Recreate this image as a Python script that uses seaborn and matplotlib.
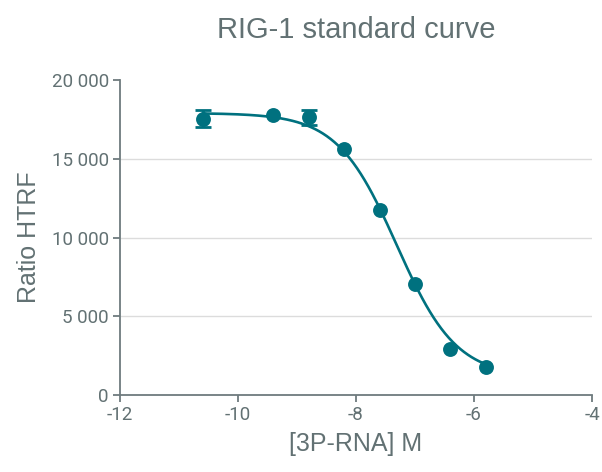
import numpy as np
import pandas as pd
import seaborn as sns
from matplotlib import pyplot as plt
from matplotlib.ticker import FuncFormatter

# measured points (log concentration vs HTRF ratio)
log_conc = [-10.6, -9.4, -8.8, -8.2, -7.6, -7.0, -6.4, -5.8]
ratio = [17550, 17800, 17620, 15650, 11750, 7080, 2930, 1780]
ratio_sd = [560, 0, 500, 0, 0, 0, 0, 0]

# 4PL fit parameters
top, bottom, log_ec50, hill = 17900, 1150, -7.31, 0.86

teal = '#00717f'
grey_txt = '#627173'
grey_axis = '#6e7b7e'

sns.set_style('white')
plt.rcParams['font.family'] = ['Liberation Sans', 'DejaVu Sans']
plt.rcParams['axes.unicode_minus'] = False

points = pd.DataFrame({'x': log_conc, 'y': ratio})
xs = np.linspace(min(log_conc), max(log_conc), 300)
fit = pd.DataFrame({'x': xs,
                    'y': bottom + (top - bottom) / (1 + 10 ** (hill * (xs - log_ec50)))})

fig = plt.figure(figsize=(6.02, 4.72), dpi=100)
ax = fig.add_axes([0.1993, 0.1631, 0.7841, 0.6674])

#light horizontal grid
ax.hlines([5000, 10000, 15000], -12, -4, color='#dcdcdc', lw=1, zorder=0)

sns.lineplot(data=fit, x='x', y='y', color=teal, lw=1.9, ax=ax, zorder=2)
sd_idx = [i for i, v in enumerate(ratio_sd) if v > 0]
ax.errorbar([log_conc[i] for i in sd_idx], [ratio[i] for i in sd_idx],
            yerr=[ratio_sd[i] for i in sd_idx], fmt='none', ecolor=teal,
            elinewidth=2, capsize=5.5, capthick=2, zorder=3)
sns.scatterplot(data=points, x='x', y='y', color=teal, s=115, edgecolor=teal,
                linewidth=0, ax=ax, zorder=4)

ax.set_xlim(-12, -4)
ax.set_ylim(0, 20000)
ax.set_xticks([-12, -10, -8, -6, -4])
ax.set_yticks([0, 5000, 10000, 15000, 20000])
ax.yaxis.set_major_formatter(FuncFormatter(lambda v, p: f'{int(v):,}'.replace(',', ' ')))

for s in ['top', 'right']:
    ax.spines[s].set_visible(False)
for s in ['left', 'bottom']:
    ax.spines[s].set_color(grey_axis)
    ax.spines[s].set_linewidth(1.3)
ax.tick_params(direction='out', length=5, width=1.3, color=grey_axis,
               labelcolor=grey_txt, labelsize=13.5, pad=3,
               left=True, bottom=True)
for lab in ax.get_xticklabels() + ax.get_yticklabels():
    lab.set_family('Roboto')

ax.set_xlabel('[3P-RNA] M', fontsize=18, color=grey_txt, labelpad=6)
ax.set_ylabel('Ratio HTRF', fontsize=18, color=grey_txt, labelpad=8)
ax.set_title('RIG-1 standard curve', fontsize=21, color=grey_txt, pad=30)

fig.savefig('out.png', dpi=100)
